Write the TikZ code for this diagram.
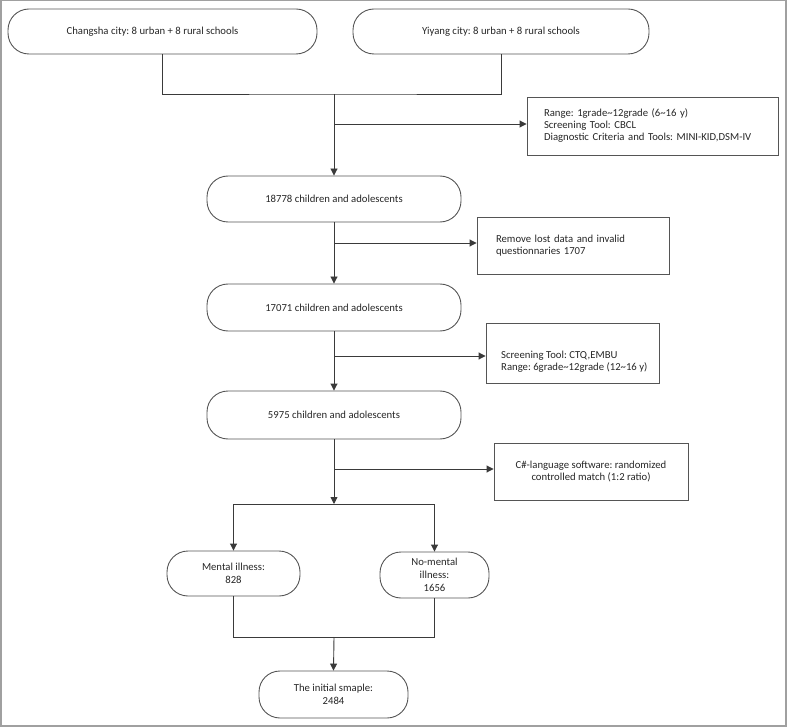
\documentclass[tikz,border=0pt]{standalone}
\usepackage{fontspec}
\setmainfont{Carlito}
\frenchspacing
\usetikzlibrary{arrows.meta}
\definecolor{boxline}{HTML}{555555}
\definecolor{connclr}{HTML}{3A3A3A}
\definecolor{frameclr}{HTML}{A0A0A0}
\begin{document}
\begin{tikzpicture}[x=1pt,y=-1pt,
  txt/.style={font=\fontsize{10.7}{12}\selectfont, text=black!85},
  rtxt/.style={font=\fontsize{10.7}{13}\selectfont, text=black!85},
  rbox/.style={rtxt, draw=boxline, line width=0.9pt, rounded corners=21pt, inner sep=0pt, align=center},
  sbox/.style={txt, draw=boxline, line width=0.9pt, inner ysep=0pt, align=left},
  conn/.style={draw=connclr, line width=0.9pt},
  arr/.style={conn, -{Triangle[width=7pt,length=7pt]}}]
\useasboundingbox (0,0) rectangle (787,727);
\draw[frameclr, line width=1.5pt] (0.75,0.75) rectangle (786,726);

\node[rbox, minimum width=309pt, minimum height=45pt] (cs) at (162.5,31.5) {Changsha city: 8 urban + 8 rural schools\hspace*{20pt}};
\node[rbox, minimum width=296pt, minimum height=45pt] (yy) at (501,31.5) {Yiyang city: 8 urban + 8 rural schools};
\node[sbox, inner xsep=17pt, text width=217pt, minimum height=58pt] (range) at (652.5,126) {Range: 1grade\textasciitilde12grade (6\textasciitilde16 y)\\Screening Tool: CBCL\\Diagnostic Criteria and Tools: MINI-KID,DSM-IV};
\node[rbox, minimum width=254pt, minimum height=46pt] (n1) at (334,199) {18778 children and adolescents};
\node[sbox, inner xsep=19pt, text width=154pt, minimum height=57pt] (remove) at (573,245.5) {Remove lost data and invalid\\questionnaries 1707};
\node[rbox, minimum width=254pt, minimum height=47pt] (n2) at (334,307.5) {17071 children and adolescents};
\node[draw=boxline, line width=0.9pt, minimum width=173pt, minimum height=60pt, inner sep=0pt] (screen) at (572.5,353) {};
\node[txt, align=left, anchor=west, inner sep=0pt] (screentext) at (501,362) {Screening Tool: CTQ,EMBU\\Range: 6grade\textasciitilde12grade (12\textasciitilde16 y)};
\node[rbox, minimum width=254pt, minimum height=48pt] (n3) at (334,415) {5975 children and adolescents};
\node[sbox, align=center, minimum width=194pt, minimum height=57pt] (match) at (591,471.5) {C\#-language software: randomized\\controlled match (1:2 ratio)};
\node[rbox, minimum width=133pt, minimum height=45pt] (mi) at (233.5,573.5) {Mental illness:\\828};
\node[rbox, minimum width=109pt, minimum height=46pt] (nmi) at (434.5,575) {No-mental\\illness:\\1656};
\node[rbox, minimum width=149pt, minimum height=47pt] (init) at (333.5,694.5) {The initial smaple:\\2484};

\coordinate (jtop) at (334,94);
\draw[conn] (cs.south) |- (jtop) -| (yy.south);
\draw[arr] (jtop) -- (n1.north);
\coordinate (j1) at (334,124);
\draw[arr] (j1) -- (j1 -| range.west);
\draw[arr] (n1.south) -- (n2.north);
\coordinate (j2) at (334,243);
\draw[arr] (j2) -- (j2 -| remove.west);
\draw[arr] (n2.south) -- (n3.north);
\coordinate (j3) at (334,356);
\draw[arr] (j3) -- (j3 -| screen.west);
\coordinate (split) at (334,504);
\draw[arr] (n3.south) -- (split);
\coordinate (j4) at (334,469);
\draw[arr] (j4) -- (j4 -| match.west);
\draw[arr] (split) -| (mi.north);
\draw[arr] (split) -| (nmi.north);
\coordinate (join) at (334,637);
\draw[conn] (mi.south) |- (join);
\draw[conn] (nmi.south) |- (join);
\draw[arr] (join) -- (init.north);
\end{tikzpicture}
\end{document}
